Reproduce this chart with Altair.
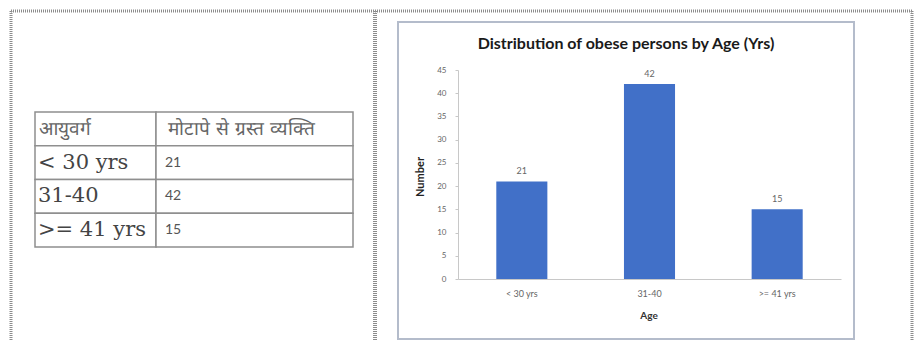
import altair as alt
import pandas as pd

# ---- data -------------------------------------------------------------
header = ["आयुवर्ग", "मोटापे से ग्रस्त व्यक्ति"]
age_groups = ["< 30 yrs", "31-40", ">= 41 yrs"]
obese_counts = [21, 42, 15]
y_ticks = [0, 5, 10, 15, 20, 25, 30, 35, 40, 45]

title_text = "Distribution of obese persons by Age (Yrs)"
x_title = "Age"
y_title = "Number"

W, H = 914, 341
CHART_FONT = "Lato"
TABLE_FONT = "DejaVu Serif"

table_df = pd.DataFrame({
    "row": list(range(len(age_groups) + 1)),
    "group": [header[0]] + age_groups,
    "count": [header[1]] + [str(c) for c in obese_counts],
})
bars_df = pd.DataFrame({"age": age_groups, "number": obese_counts})
one = alt.Data(values=[{}])

# ---- page frame (document table borders) -------------------------------
border = dict(color="#8c8c8c", strokeWidth=3, strokeDash=[1, 1])
frame_top = alt.Chart(one).mark_rule(**border).encode(
    x=alt.value(11), x2=alt.value(913), y=alt.value(11))
frame_left = alt.Chart(one).mark_rule(**border).encode(
    x=alt.value(11), y=alt.value(11), y2=alt.value(H))
frame_right = alt.Chart(one).mark_rule(**border).encode(
    x=alt.value(912), y=alt.value(11), y2=alt.value(H))
frame_mid = alt.Chart(one).mark_rule(color="#8c8c8c", strokeWidth=4, strokeDash=[1, 1]).encode(
    x=alt.value(375), y=alt.value(11), y2=alt.value(H))

chart_box = alt.Chart(one).mark_rect(
    fillOpacity=0, stroke="#b4bccb", strokeWidth=2).encode(
    x=alt.value(398), x2=alt.value(854), y=alt.value(22), y2=alt.value(339))

# ---- data table ---------------------------------------------------------
row_scale = alt.Scale(domain=list(range(len(table_df))), range=[112, 247],
                      paddingInner=0, paddingOuter=0)
row_y = alt.Y("row:O", scale=row_scale, axis=None)

cell_style = dict(fill="white", stroke="#8f8f8f", strokeWidth=1.5)
cells_a = alt.Chart(table_df).mark_rect(**cell_style).encode(
    y=row_y, x=alt.value(35), x2=alt.value(156))
cells_b = alt.Chart(table_df).mark_rect(**cell_style).encode(
    y=row_y, x=alt.value(156), x2=alt.value(353))

head_a = alt.Chart(table_df).transform_filter("datum.row == 0").mark_text(
    align="left", baseline="middle", font=TABLE_FONT, fontSize=19, color="#666").encode(
    y=row_y, x=alt.value(39), text="group:N")
head_b = alt.Chart(table_df).transform_filter("datum.row == 0").mark_text(
    align="left", baseline="middle", font=TABLE_FONT, fontSize=19, color="#666").encode(
    y=row_y, x=alt.value(168), text="count:N")
body_a = alt.Chart(table_df).transform_filter("datum.row > 0").mark_text(
    align="left", baseline="middle", font=TABLE_FONT, fontSize=21, color="#444").encode(
    y=row_y, x=alt.value(38), text="group:N")
body_b = alt.Chart(table_df).transform_filter("datum.row > 0").mark_text(
    align="left", baseline="middle", font=CHART_FONT, fontSize=14, color="#555").encode(
    y=row_y, x=alt.value(165), text="count:N")

# ---- bar chart ----------------------------------------------------------
x_scale = alt.Scale(domain=age_groups, range=[458, 841], paddingInner=0.6, paddingOuter=0.3)
y_scale = alt.Scale(domain=[0, 45], range=[279, 70], nice=False, zero=True)

bars = alt.Chart(bars_df).mark_bar(color="#4170C8").encode(
    x=alt.X("age:N", sort=age_groups, scale=x_scale, title=None,
            axis=alt.Axis(orient="bottom", offset=-(H - 279), labelAngle=0,
                          labelPadding=10, ticks=False, labelFontSize=9)),
    y=alt.Y("number:Q", scale=y_scale, title=None,
            axis=alt.Axis(orient="left", offset=-458, values=y_ticks,
                          labelPadding=9, tickSize=3, grid=False, labelFontSize=8)),
)
labels = alt.Chart(bars_df).mark_text(
    dy=-10, font=CHART_FONT, fontSize=9, color="#666").encode(
    x=alt.X("age:N", sort=age_groups, scale=x_scale, axis=None),
    y=alt.Y("number:Q", scale=y_scale, axis=None),
    text="number:Q",
)

title = alt.Chart(one).mark_text(
    text=title_text, font=CHART_FONT, fontSize=16, fontWeight="bold", color="#1a1a1a").encode(
    x=alt.value(626), y=alt.value(44))
x_label = alt.Chart(one).mark_text(
    text=x_title, font=CHART_FONT, fontSize=10, fontWeight="bold", color="#333").encode(
    x=alt.value(649), y=alt.value(316))
y_label = alt.Chart(one).mark_text(
    text=y_title, font=CHART_FONT, fontSize=11, fontWeight="bold", color="#222", angle=270).encode(
    x=alt.value(421), y=alt.value(177))

chart = alt.layer(
    frame_top, frame_left, frame_right, frame_mid, chart_box,
    cells_a, cells_b, head_a, head_b, body_a, body_b,
    bars, labels, title, x_label, y_label,
).resolve_scale(
    x="independent", y="independent"
).properties(
    width=W, height=H, padding=0, autosize=alt.AutoSizeParams(type="none"),
    background="white",
).configure_view(
    strokeWidth=0
).configure_axis(
    labelFont=CHART_FONT, labelColor="#666", zindex=1,
    domainColor="#c8c8c8", tickColor="#c8c8c8",
)

chart.save("out.html", embed_options={"renderer": "svg", "actions": False})
